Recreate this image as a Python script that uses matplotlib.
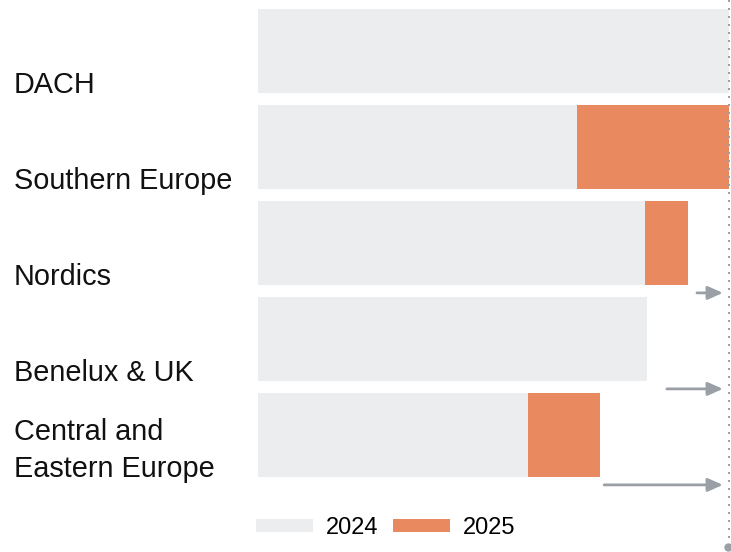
import matplotlib.pyplot as plt
import matplotlib.transforms as mtransforms
from matplotlib.patches import Patch

plt.rcParams['font.family'] = ['Liberation Sans', 'DejaVu Sans']

# data
regions = ["DACH", "Southern Europe", "Nordics", "Benelux & UK", "Central and\nEastern Europe"]
share_2024 = [100.0, 67.7, 82.2, 82.6, 57.3]
share_2025 = [0.0, 32.3, 9.1, 0.0, 15.3]
arrow_from = [None, None, 93.2, 86.8, 73.5]
arrow_to = 98.7
target = 100
years = ["2024", "2025"]

grey = "#ECEDEF"
orange = "#E8895F"
line_grey = "#9AA0A6"

W, H = 731, 552
fig = plt.figure(figsize=(W / 100, H / 100), dpi=100)

# axes placed in pixels: x 258..729, y 0..547
ax = fig.add_axes([258 / W, (H - 547) / H, (729 - 258) / W, 547 / H])
ax.set_xlim(0, target)
ax.set_ylim(5.167, -0.531)
ax.axis('off')

ypos = list(range(len(regions)))
bar_h = 0.875
ax.barh(ypos, share_2024, height=bar_h, color=grey, label=years[0])
ax.barh(ypos, share_2025, left=share_2024, height=bar_h, color=orange, label=years[1])

# target line
ax.plot([target, target], [-0.531, 5.167], linestyle=(0, (1, 3)), color=line_grey,
        linewidth=1.44, dash_capstyle='butt', clip_on=False)
ax.plot([target - 0.3], [5.167], 'o', color=line_grey, markersize=5, clip_on=False)

# gap arrows
for i, start in enumerate(arrow_from):
    if start is None:
        continue
    ax.annotate('', xy=(arrow_to, i + 0.52), xytext=(start, i + 0.52),
                arrowprops=dict(arrowstyle='-|>,head_length=0.9,head_width=0.4',
                                color=line_grey, lw=2, shrinkA=0, shrinkB=0))

# region labels, left aligned at the figure edge
trans = mtransforms.blended_transform_factory(fig.transFigure, ax.transData)
for i, name in enumerate(regions):
    ax.text(14 / W, i + bar_h / 2, name, transform=trans, ha='left', va='baseline',
            fontsize=20.8, linespacing=1.42, color='#111111')

handles = [Patch(facecolor=grey, edgecolor='none', label=years[0]),
           Patch(facecolor=orange, edgecolor='none', label=years[1])]
fig.legend(handles=handles, loc='center left', bbox_to_anchor=(256 / W, 1 - 528 / H),
           ncol=2, frameon=False, fontsize=17, borderpad=0, borderaxespad=0,
           handlelength=2.4, handleheight=0.5, handletextpad=0.55, columnspacing=0.64)

fig.savefig("out.png", dpi=100)
